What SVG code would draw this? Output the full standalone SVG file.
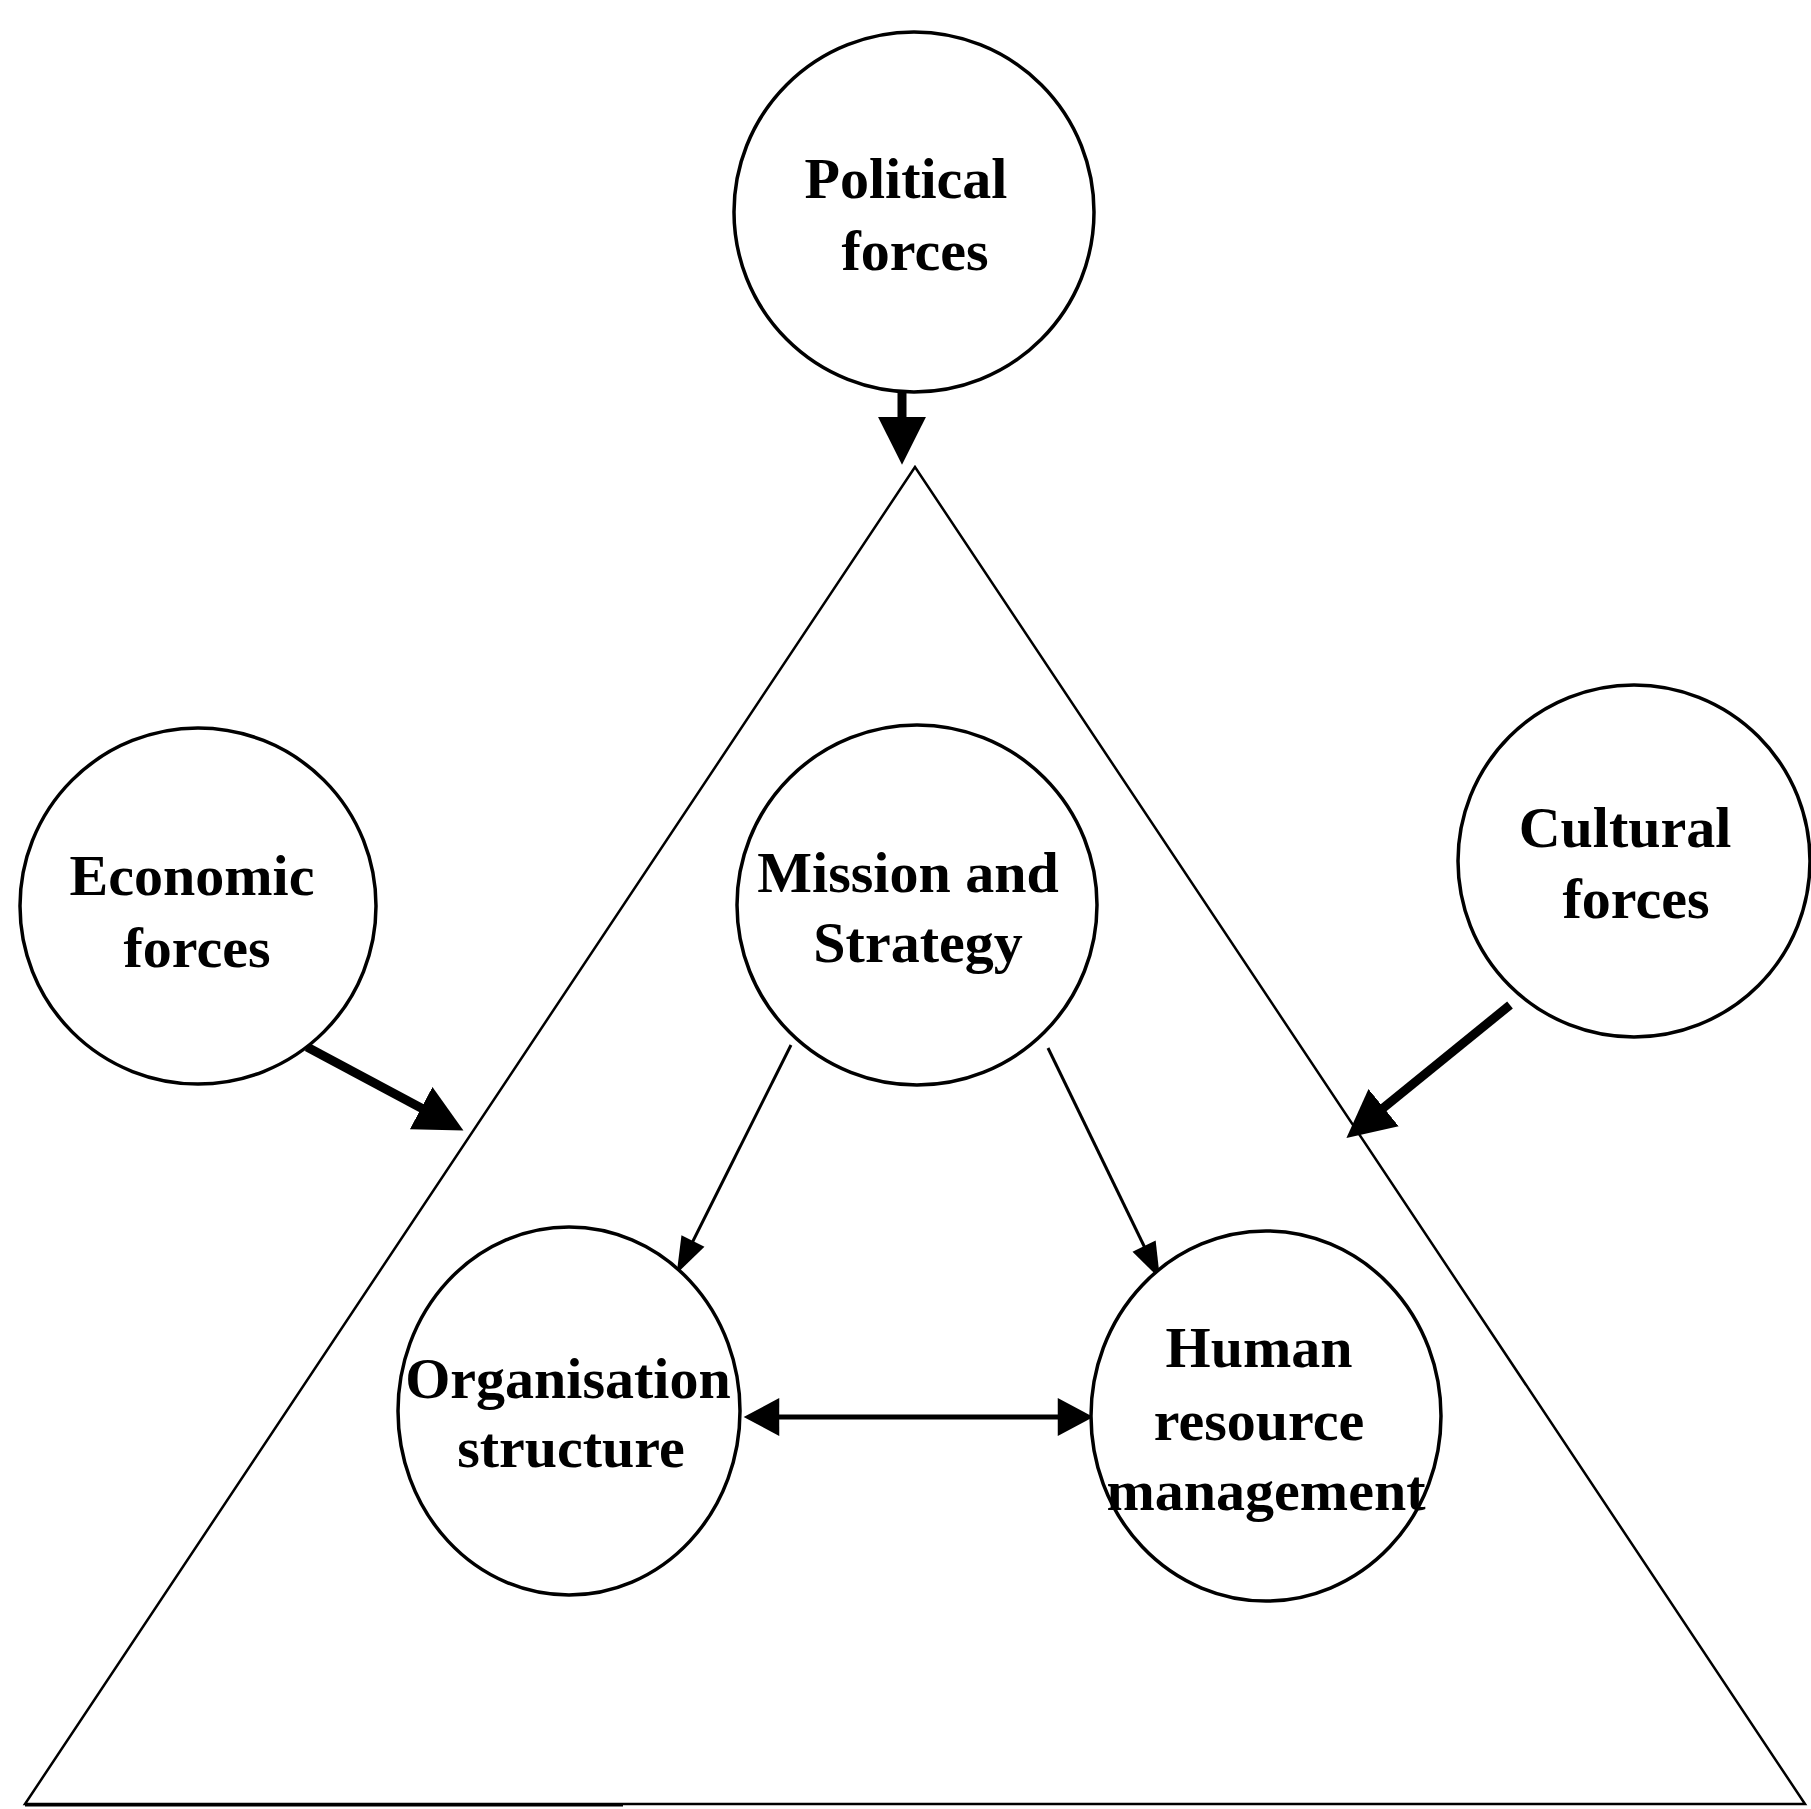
<svg xmlns="http://www.w3.org/2000/svg" width="1811" height="1809" viewBox="0 0 1811 1809">
  <style>
    .node circle, .node ellipse { fill: #fff; stroke: #000; stroke-width: 3.5; }
    .label { font-family: "Liberation Serif", "Times New Roman", serif; font-weight: bold; font-size: 58px; fill: #000; text-anchor: middle; }
    .frame { fill: none; stroke: #000; stroke-width: 2.5; stroke-linejoin: miter; }
    .heavy { stroke: #000; stroke-width: 9; fill: none; marker-end: url(#headHeavy); }
    .thin { stroke: #000; stroke-width: 3; fill: none; marker-end: url(#headThin); }
    .both { stroke: #000; stroke-width: 5; fill: none; marker-start: url(#headBoth); marker-end: url(#headBoth); }
  </style>
  <defs>
    <marker id="headHeavy" markerUnits="userSpaceOnUse" markerWidth="50" markerHeight="50" viewBox="0 -24 48 48" refX="2" refY="0" orient="auto">
      <path d="M0,-23 L46,0 L0,23 z" fill="#000"/>
    </marker>
    <marker id="headThin" markerUnits="userSpaceOnUse" markerWidth="40" markerHeight="30" viewBox="0 -14 36 28" refX="2" refY="0" orient="auto">
      <path d="M0,-12 L34,0 L0,12 z" fill="#000"/>
    </marker>
    <marker id="headBoth" markerUnits="userSpaceOnUse" markerWidth="40" markerHeight="40" viewBox="0 -18 34 36" refX="2" refY="0" orient="auto-start-reverse">
      <path d="M0,-17 L32,0 L0,17 z" fill="#000"/>
    </marker>
  </defs>

  <rect width="1811" height="1809" fill="#fff"/>

  <!-- Organisation triangle -->
  <g id="triangle">
    <path class="frame" d="M915,467 L25,1804 L1805,1804 Z"/>
    <line x1="25" y1="1805" x2="623" y2="1805" stroke="#000" stroke-width="3"/>
  </g>

  <!-- Connectors -->
  <g id="connectors">
    <line class="heavy" x1="902" y1="392" x2="902" y2="419"/>
    <line class="heavy" x1="307" y1="1047" x2="423" y2="1109"/>
    <line class="heavy" x1="1510" y1="1005" x2="1382" y2="1109"/>
    <line class="thin" x1="791" y1="1045" x2="692" y2="1243"/>
    <line class="thin" x1="1048" y1="1048" x2="1145" y2="1248"/>
    <line class="both" x1="777" y1="1417" x2="1060" y2="1417"/>
  </g>

  <!-- Nodes -->
  <g id="political" class="node">
    <circle cx="914" cy="212" r="180"/>
    <text class="label" x="906" y="198">Political</text>
    <text class="label" x="915" y="270">forces</text>
  </g>

  <g id="economic" class="node">
    <circle cx="198" cy="906" r="178"/>
    <text class="label" x="192" y="895">Economic</text>
    <text class="label" x="197" y="967">forces</text>
  </g>

  <g id="cultural" class="node">
    <circle cx="1634" cy="861" r="176"/>
    <text class="label" x="1625" y="847">Cultural</text>
    <text class="label" x="1636" y="918">forces</text>
  </g>

  <g id="mission" class="node">
    <circle cx="917" cy="905" r="180"/>
    <text class="label" x="908" y="892">Mission and</text>
    <text class="label" x="918" y="962">Strategy</text>
  </g>

  <g id="organisation" class="node">
    <ellipse cx="569" cy="1411" rx="171" ry="184"/>
    <text class="label" x="568" y="1398">Organisation</text>
    <text class="label" x="571" y="1467">structure</text>
  </g>

  <g id="hrm" class="node">
    <ellipse cx="1266" cy="1416" rx="175" ry="185"/>
    <text class="label" x="1259" y="1367">Human</text>
    <text class="label" x="1259" y="1440">resource</text>
    <text class="label" x="1266" y="1510">management</text>
  </g>
</svg>
